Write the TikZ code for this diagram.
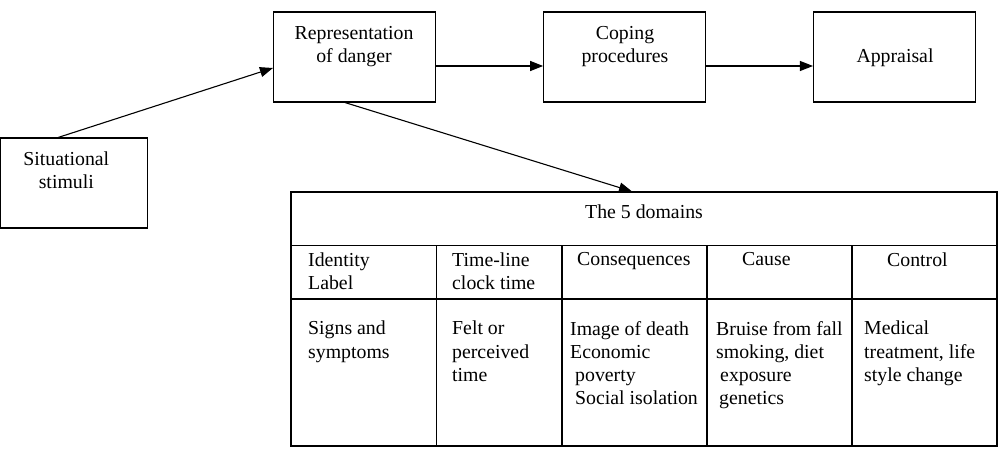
\documentclass[tikz,border=0pt]{standalone}
\usepackage{fontspec}
\setmainfont{Liberation Serif}
\usetikzlibrary{arrows.meta}

\tikzset{
  box/.style={draw, line width=1.1pt, minimum width=162pt, minimum height=90pt, inner sep=0pt},
  txt/.style={inner sep=0pt, align=center, anchor=north},
  cell/.style={inner sep=0pt, align=left, anchor=north west},
  grid/.style={line width=1.1pt},
  flow/.style={line width=1.1pt, -{Triangle[length=13pt,width=10pt]}}
}

\begin{document}
\begin{tikzpicture}[x=1pt, y=-1pt, font=\fontsize{19.8}{23.2}\selectfont]
			%%%%% START %%%%%
			\useasboundingbox (0,0) rectangle (998,454);
			
			\node[box, minimum width=147pt] (stim) at (74.2,183) {};
			\node[box] (rep) at (354.5,57) {};
			\node[box] (cope) at (624.7,57) {};
			\node[box] (appr) at (894.5,57) {};
			
			\node[txt] (stimtxt) at (66.3,151.5) {Situational\\stimuli};
			\node[txt] (reptxt) at (354,26) {Representation\\of danger};
			\node[txt] (copetxt) at (625,26) {Coping\\procedures};
			\node[txt] (apprtxt) at (895,49) {Appraisal};
			
			\draw[flow] ([xshift=-16pt]stim.north) -- ([yshift=-11pt]rep.west);
			\draw[flow] ([yshift=-9pt]rep.east) -- ([yshift=-9pt]cope.west);
			\draw[flow] ([yshift=-9pt]cope.east) -- ([yshift=-9pt]appr.west);
			
			% the table
			\node[draw, grid, minimum width=706pt, minimum height=254pt, inner sep=0pt] (dom) at (644,319) {};
			\draw[flow] ([xshift=-9.5pt]rep.south) -- ([xshift=-12pt]dom.north);
			
			\draw[grid] (291,245.5) -- (997,245.5);
			\draw[grid] (291,299) -- (997,299);
			\foreach \cx in {436.5,562,707,852}
				\draw[grid] (\cx,245.5) -- (\cx,446);
			
			\node[txt] (title) at (644,205) {The 5 domains};
			
			\node[cell] (hid) at (308,252.5) {Identity\\Label};
			\node[cell] (htime) at (452,252.5) {Time-line\\clock time};
			\node[cell] (hcons) at (577,252.5) {Consequences};
			\node[cell] (hcause) at (742,252.5) {Cause};
			\node[cell] (hctrl) at (887,252.5) {Control};
			
			\node[cell] (did) at (308,321) {Signs and\\symptoms};
			\node[cell] (dtime) at (452,321) {Felt or\\perceived\\time};
			\node[cell] (dcons) at (570,321) {Image of death\\Economic\\\hspace*{5pt}poverty\\\hspace*{5pt}Social isolation};
			\node[cell] (dcause) at (716,321) {Bruise from fall\\smoking, diet\\\hspace*{4pt}exposure\\\hspace*{3pt}genetics};
			\node[cell] (dctrl) at (864,321) {Medical\\treatment, life\\style change};
			
			%%%%% END %%%%%
\end{tikzpicture}
\end{document}
